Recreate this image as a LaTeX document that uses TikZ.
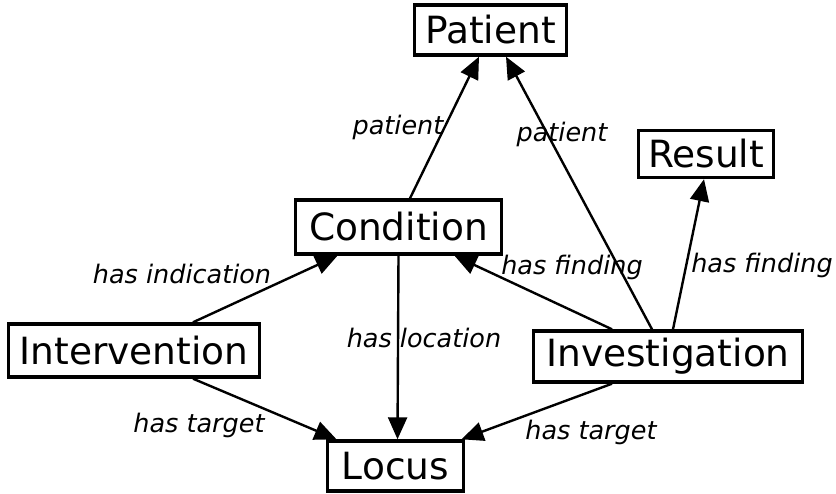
\documentclass[tikz,border=0pt]{standalone}
\usepackage{fontspec}
\setmainfont{DejaVu Sans}
\usetikzlibrary{arrows.meta}
\begin{document}
\begin{tikzpicture}[x=1pt,y=-1pt,
  entity/.style={draw, line width=3.4pt, inner sep=0pt, fill=white,
    font=\fontsize{37.5}{40}\selectfont},
  rel/.style={line width=2.4pt, -{Triangle[length=22pt,width=19pt]}},
  lbl/.style={font=\fontsize{25.5}{28}\selectfont\itshape, inner sep=0pt}]
\useasboundingbox (0,0) rectangle (836,494);

% concepts
\node[entity, minimum width=152pt, minimum height=50pt] (patient) at (490.5,30) {Patient};
\node[entity, minimum width=135pt, minimum height=47pt] (result) at (706,154) {Result};
\node[entity, minimum width=206pt, minimum height=54pt] (condition) at (398.5,227) {Condition};
\node[entity, minimum width=251pt, minimum height=53pt] (intervention) at (134,350.5) {Intervention};
\node[entity, minimum width=269pt, minimum height=51pt] (investigation) at (668,356.5) {Investigation};
\node[entity, minimum width=136pt, minimum height=50pt] (locus) at (395.5,466) {Locus};

% relations
\draw[rel] ([xshift=11.5pt]condition.north) -- ([xshift=-11.5pt]patient.south);
\draw[rel] ([xshift=-16pt]investigation.north) -- ([xshift=15.5pt]patient.south);
\draw[rel] ([xshift=5pt]investigation.north) -- ([xshift=-2pt]result.south);
\draw[rel] ([xshift=-56pt]investigation.north) -- ([xshift=56pt]condition.south);
\draw[rel] ([xshift=59pt]intervention.north) -- ([xshift=-61pt]condition.south);
\draw[rel] (condition.south) -- ([xshift=2pt]locus.north);
\draw[rel] ([xshift=59pt]intervention.south) -- ([xshift=-59pt]locus.north);
\draw[rel] ([xshift=-56pt]investigation.south) -- ([xshift=66pt]locus.north);

% relation labels
\node[lbl] (l1) at (398,127) {patient};
\node[lbl] (l2) at (562,134) {patient};
\node[lbl] (l3) at (182,274) {has indication};
\node[lbl] (l4) at (572,267) {has finding};
\node[lbl] (l5) at (762,265) {has finding};
\node[lbl] (l6) at (424,338) {has location};
\node[lbl] (l7) at (199,425) {has target};
\node[lbl] (l8) at (591,432) {has target};
\end{tikzpicture}
\end{document}
